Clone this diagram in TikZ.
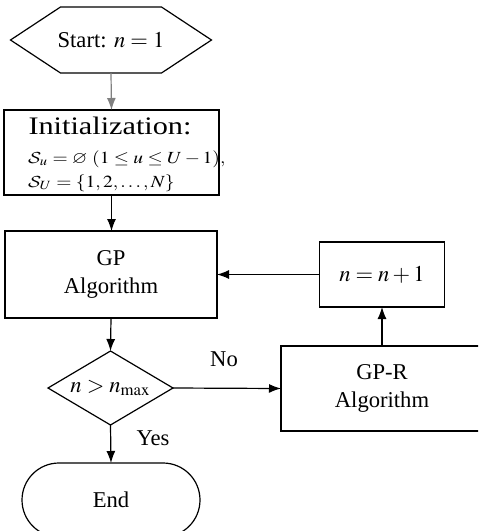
\documentclass[tikz,border=0pt]{standalone}
\usepackage{mathptmx}
\usepackage{amssymb}
\DeclareMathAlphabet{\mathcal}{OMS}{cmsy}{m}{n}
\usepackage{fontspec}
\setmainfont{Liberation Serif}
\usetikzlibrary{arrows.meta}
\begin{document}
\begin{tikzpicture}[x=0.5pt,y=-0.5pt, line width=0.6pt,
  every node/.style={font=\fontsize{11.3}{14}\selectfont, inner sep=0pt, outer sep=0pt},
  blk/.style={draw, align=center},
  arr/.style={-{Latex[length=6pt,width=4.5pt]}},
  small/.style={font=\fontsize{8.5}{10}\selectfont}]
\useasboundingbox (0,0) rectangle (478,531);
\clip (0,0) rectangle (478,531);

% start hexagon
\node[minimum width=100.5pt, minimum height=33pt] (start) at (111,40) {Start: $n=1$};
\draw (start.west) -- ([xshift=25pt]start.north west) -- ([xshift=-25pt]start.north east) -- (start.east) -- ([xshift=-25pt]start.south east) -- ([xshift=25pt]start.south west) -- cycle;

% initialization
\node[blk, minimum width=107.5pt, minimum height=42.5pt] (init) at (111.5,152.5) {};
\node[anchor=base, font=\fontsize{12.6}{14}\selectfont] (initT) at (110,134) {\scalebox{1.2}[1]{Initialization:}};
\node[anchor=base west, small] (initA) at (28,163) {\scalebox{1.15}[1]{$\mathcal{S}_u=\varnothing\ (1\le u\le U-1),$}};
\node[anchor=base west, small] (initB) at (28,187) {\scalebox{1.15}[1]{$\mathcal{S}_U=\{1,2,\dots,N\}$}};

% GP
\node[blk, minimum width=106pt, minimum height=43.5pt] (gp) at (111,274.5) {GP\\Algorithm};

% decision
\node[minimum width=62.5pt, minimum height=37pt] (dia) at (110.5,388) {$n>n_{\max}$};
\draw (dia.north) -- (dia.east) -- (dia.south) -- (dia.west) -- cycle;

% GP-R (right side cut by the picture edge)
\node[align=center, minimum width=101pt, minimum height=42.5pt] (gpr) at (382,388.5) {GP-R\\Algorithm};
\draw ([xshift=10pt]gpr.north east) -- (gpr.north west) -- (gpr.south west) -- ([xshift=10pt]gpr.south east);

% increment
\node[blk, minimum width=62.5pt, minimum height=32.5pt] (inc) at (382,274.5) {$n=n+1$};

% end
\node[draw, rounded corners=18.5pt, minimum width=89pt, minimum height=37pt] (endn) at (111,500) {End};

% labels
\node (no) at (224,359) {No};
\node (yes) at (153,438) {Yes};

% connectors
\draw[arr, gray] (start.south) -- (init.north);
\draw[arr] (init.south) -- (init.south |- gp.north);
\draw[arr] (gp.south) -- (dia.north);
\draw[arr] (dia.east) -- (gpr.west);
\draw[arr] (gpr.north) -- (inc.south);
\draw[arr] (inc.west) -- (gp.east);
\draw[arr] (dia.south) -- (endn.north);
\end{tikzpicture}
\end{document}
